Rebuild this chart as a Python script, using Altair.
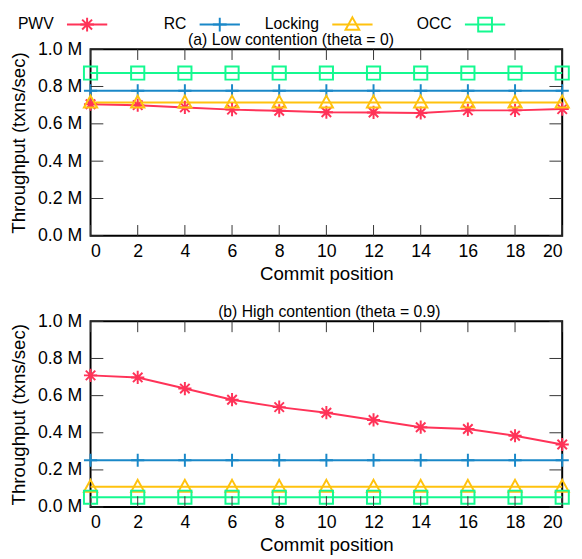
import altair as alt
import pandas as pd

FONT = "Liberation Sans"

series = ["PWV", "RC", "Locking", "OCC"]
colors = ["#ff3358", "#1a88c8", "#ffc20e", "#14f990"]
shapes = [
    "M-1,0L1,0M0,-1L0,1M-0.72,-0.72L0.72,0.72M-0.72,0.72L0.72,-0.72",
    "M-1,0L1,0M0,-1L0,1",
    "M0,-1.05L1,0.75L-1,0.75Z",
    "M-1,-1L1,-1L1,1L-1,1Z",
]

positions = [0, 2, 4, 6, 8, 10, 12, 14, 16, 18, 20]

# (a) Low contention, throughput in millions txns/sec
low_pwv = [0.705, 0.700, 0.688, 0.676, 0.670, 0.662, 0.661, 0.658, 0.672, 0.672, 0.679]
low_rc = [0.777, 0.777, 0.777, 0.777, 0.777, 0.777, 0.777, 0.777, 0.777, 0.777, 0.777]
low_locking = [0.714, 0.714, 0.714, 0.714, 0.714, 0.714, 0.714, 0.714, 0.714, 0.714, 0.714]
low_occ = [0.872, 0.872, 0.872, 0.872, 0.872, 0.872, 0.872, 0.872, 0.872, 0.872, 0.872]

# (b) High contention
high_pwv = [0.709, 0.698, 0.638, 0.578, 0.538, 0.508, 0.469, 0.430, 0.420, 0.384, 0.337]
high_rc = [0.252, 0.252, 0.252, 0.252, 0.252, 0.252, 0.252, 0.252, 0.252, 0.252, 0.252]
high_locking = [0.109, 0.109, 0.109, 0.109, 0.109, 0.109, 0.109, 0.109, 0.109, 0.109, 0.109]
high_occ = [0.053, 0.053, 0.053, 0.053, 0.053, 0.053, 0.053, 0.053, 0.053, 0.053, 0.053]

x_ticks = [0, 2, 4, 6, 8, 10, 12, 14, 16, 18, 20]
y_ticks = [0.0, 0.2, 0.4, 0.6, 0.8, 1.0]

W = 480
XT, YT = 11, 13
TICK_FS = 18
TITLE_FS = 19

FRAME = alt.ViewBackground(stroke="black", strokeWidth=2)


def long_df(pwv, rc, locking, occ):
    rows = []
    for name, vals in zip(series, [pwv, rc, locking, occ]):
        for p, v in zip(positions, vals):
            rows.append({"pos": p, "tput": v, "series": name})
    return pd.DataFrame(rows)


color_scale = alt.Scale(domain=series, range=colors)
shape_scale = alt.Scale(domain=series, range=shapes)

xs = alt.Scale(domain=[0, 20], nice=False)
ys = alt.Scale(domain=[0, 1], nice=False)
x_axis = alt.Axis(values=x_ticks, format="d", domain=False, ticks=False,
                  grid=False, labelPadding=7, titlePadding=4,
                  labelOverlap=False,
                  labelFontSize=TICK_FS, titleFontSize=TITLE_FS, labelFont=FONT,
                  titleFont=FONT, titleFontWeight="normal",
                  labelColor="black", titleColor="black")
y_axis = alt.Axis(values=y_ticks, domain=False, ticks=False, grid=False,
                  labelExpr="format(datum.value, '.1f') + ' M'",
                  labelPadding=9, titlePadding=9, labelOverlap=False,
                  labelFontSize=TICK_FS, titleFontSize=TITLE_FS, labelFont=FONT,
                  titleFont=FONT, titleFontWeight="normal",
                  labelColor="black", titleColor="black")
X_TITLE = "Commit position"
Y_TITLE = "Throughput (txns/sec)"


def panel(df, title, title_dx, h):
    x = alt.X("pos:Q", scale=xs, title=X_TITLE, axis=x_axis)
    y = alt.Y("tput:Q", scale=ys, title=Y_TITLE, axis=y_axis)
    base = alt.Chart(df)
    lines = base.mark_line(strokeWidth=2, clip=False).encode(
        x=x, y=y,
        color=alt.Color("series:N", scale=color_scale, legend=None),
        detail="series:N",
    )
    points = base.mark_point(filled=False, strokeWidth=2, size=180, clip=False,
                             opacity=1).encode(
        x=x, y=y,
        color=alt.Color("series:N", scale=color_scale, legend=None),
        shape=alt.Shape("series:N", scale=shape_scale, legend=None),
    )
    xt = alt.Chart(pd.DataFrame({"t": x_ticks}))
    yt = alt.Chart(pd.DataFrame({"t": y_ticks}))
    tick_style = dict(color="#333333", strokeWidth=1)
    tx = alt.X("t:Q", scale=xs, title=X_TITLE, axis=x_axis)
    ty = alt.Y("t:Q", scale=ys, title=Y_TITLE, axis=y_axis)
    bt = xt.mark_rule(**tick_style).encode(x=tx, y=alt.value(h), y2=alt.value(h - XT))
    tt = xt.mark_rule(**tick_style).encode(x=tx, y=alt.value(0), y2=alt.value(XT))
    lt = yt.mark_rule(**tick_style).encode(y=ty, x=alt.value(0), x2=alt.value(YT))
    rt = yt.mark_rule(**tick_style).encode(y=ty, x=alt.value(W - YT), x2=alt.value(W))
    return alt.layer(lines, points, bt, tt, lt, rt).properties(
        width=W, height=h, view=FRAME,
        title=alt.TitleParams(title, fontSize=16, font=FONT, fontWeight="normal",
                              anchor="middle", offset=2, dx=title_dx, dy=10,
                              color="black", frame="group"),
    )


low = panel(long_df(low_pwv, low_rc, low_locking, low_occ),
            "(a) Low contention (theta = 0)", -36, 190)
high = panel(long_df(high_pwv, high_rc, high_locking, high_occ),
             "(b) High contention (theta = 0.9)", 3, 189)

leg_df = pd.DataFrame({"series": series})
leg_x = alt.X("series:N", sort=series, axis=None,
              scale=alt.Scale(type="point", padding=0.2778))
leg_color = alt.Color("series:N", scale=color_scale, legend=None)
leg_base = alt.Chart(leg_df)
leg_text = leg_base.mark_text(align="right", baseline="middle", fontSize=16,
                              font=FONT, dx=-75, color="black").encode(
    x=leg_x, y=alt.value(5), text="series:N")
leg_line = leg_base.mark_point(filled=False, strokeWidth=2, size=4, opacity=1,
                               shape="M-20.5,0L20.5,0").encode(
    x=leg_x, y=alt.value(5), xOffset=alt.value(-41), color=leg_color)
leg_sym = leg_base.mark_point(filled=False, strokeWidth=2, size=196, opacity=1).encode(
    x=leg_x, y=alt.value(5), xOffset=alt.value(-41), color=leg_color,
    shape=alt.Shape("series:N", scale=shape_scale, legend=None),
)
legend = alt.layer(leg_text, leg_line, leg_sym).properties(
    width=W, height=20, view=alt.ViewBackground(strokeOpacity=0, strokeWidth=0))

chart = alt.vconcat(
    legend,
    alt.vconcat(low, high, spacing=87, bounds="flush"),
    spacing=10, bounds="flush",
).properties(
    padding={"left": 0, "top": 0, "right": 0, "bottom": 0},
).configure_view(
    strokeWidth=0,
).configure(background="white")

chart.save("out.html", embed_options={"renderer": "svg", "actions": False})
